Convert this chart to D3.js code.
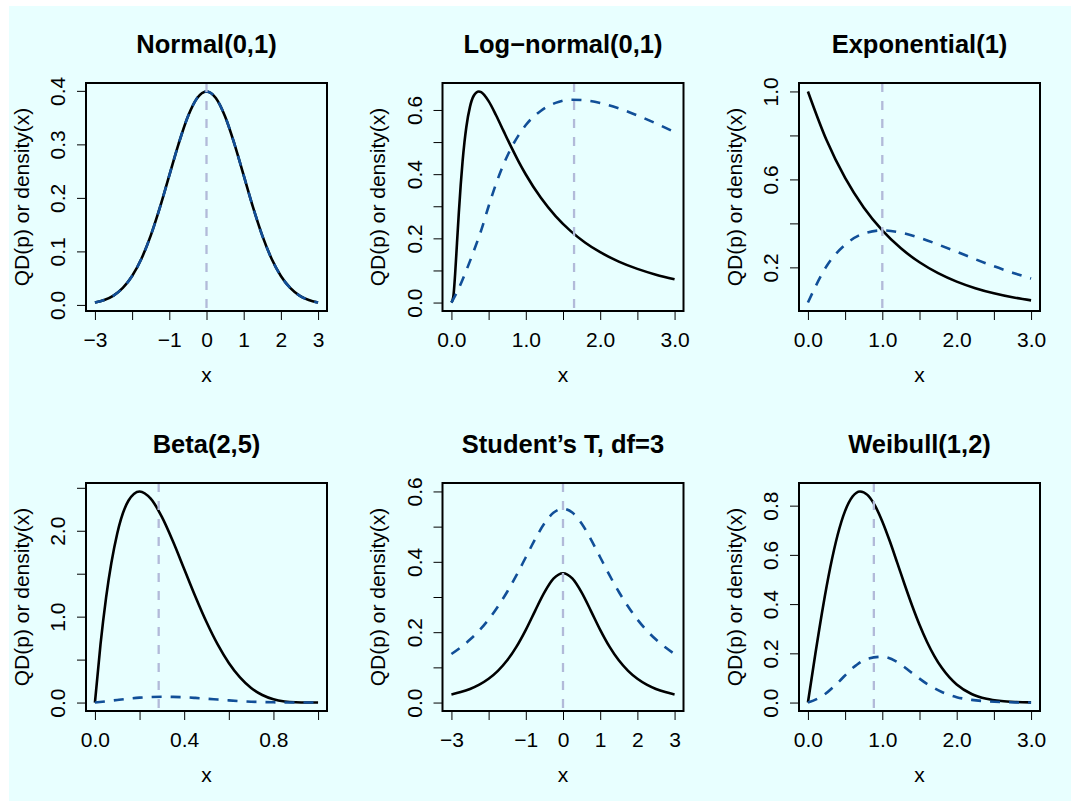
<!DOCTYPE html>
<html>
<head>
<meta charset="utf-8">
<script src="https://cdn.jsdelivr.net/npm/d3@7"></script>
<style>
  body { margin: 0; background: #fff; }
  svg { display: block; }
</style>
</head>
<body>
<div id="chart"></div>
<script>
// Six density panels, 2 x 3 grid, R base-graphics look

const FONT = '"Liberation Sans", Arial, Helvetica, sans-serif';

const panelTitles = ['Normal(0,1)', 'Log\u2212normal(0,1)', 'Exponential(1)', 'Beta(2,5)', 'Student\u2019s T, df=3', 'Weibull(1,2)'];
const panelMeans = [0, 1.6487, 1, 0.2857, 0, 0.8862];

// Normal(0,1)
const normalX = [-3, -2.75, -2.5, -2.25, -2, -1.75, -1.5, -1.25, -1, -0.75, -0.5, -0.25, 0, 0.25, 0.5, 0.75, 1, 1.25, 1.5, 1.75, 2, 2.25, 2.5, 2.75, 3];
const normalDensity = [0.0044, 0.0091, 0.0175, 0.0317, 0.0540, 0.0863, 0.1295, 0.1826, 0.2420, 0.3011, 0.3521, 0.3867, 0.3989, 0.3867, 0.3521, 0.3011, 0.2420, 0.1826, 0.1295, 0.0863, 0.0540, 0.0317, 0.0175, 0.0091, 0.0044];
const normalQD = [0.0044, 0.0091, 0.0175, 0.0317, 0.0540, 0.0863, 0.1295, 0.1826, 0.2420, 0.3011, 0.3521, 0.3867, 0.3989, 0.3867, 0.3521, 0.3011, 0.2420, 0.1826, 0.1295, 0.0863, 0.0540, 0.0317, 0.0175, 0.0091, 0.0044];

// Log-normal(0,1)
const lognormX = [0, 0.025, 0.05, 0.075, 0.1, 0.125, 0.15, 0.175, 0.2, 0.25, 0.3, 0.368, 0.4, 0.5, 0.6, 0.7, 0.8, 0.9, 1.0, 1.2, 1.4, 1.6, 1.8, 2.0, 2.25, 2.5, 2.75, 3.0];
const lognormDensity = [0, 0.0177, 0.0898, 0.1858, 0.2815, 0.3673, 0.4399, 0.499, 0.5463, 0.6104, 0.6442, 0.6577, 0.6555, 0.6276, 0.5836, 0.5348, 0.4864, 0.4408, 0.3989, 0.3270, 0.2693, 0.2233, 0.1865, 0.1569, 0.1276, 0.1049, 0.0870, 0.0727];
const lognormQDX = [0, 0.1, 0.2, 0.3, 0.4, 0.5, 0.6, 0.7, 0.8, 0.9, 1.0, 1.2, 1.4, 1.6, 1.8, 2.0, 2.25, 2.5, 2.75, 3.0];
const lognormQD = [0, 0.045, 0.1, 0.16, 0.225, 0.3, 0.37, 0.43, 0.48, 0.52, 0.553, 0.597, 0.622, 0.632, 0.63, 0.622, 0.605, 0.583, 0.558, 0.531];

// Exponential(1)
const expX = [0, 0.25, 0.5, 0.75, 1, 1.25, 1.5, 1.75, 2, 2.25, 2.5, 2.75, 3];
const expDensity = [1, 0.7788, 0.6065, 0.4724, 0.3679, 0.2865, 0.2231, 0.1738, 0.1353, 0.1054, 0.0821, 0.0639, 0.0498];
const expQD = [0.04, 0.205, 0.303, 0.354, 0.368, 0.358, 0.335, 0.304, 0.271, 0.237, 0.205, 0.176, 0.149];

// Beta(2,5)
const betaX = [0, 0.025, 0.05, 0.1, 0.15, 0.2, 0.25, 0.3, 0.35, 0.4, 0.45, 0.5, 0.55, 0.6, 0.65, 0.7, 0.75, 0.8, 0.85, 0.9, 0.95, 1];
const betaDensity = [0, 0.6778, 1.2218, 1.9683, 2.349, 2.4576, 2.373, 2.1609, 1.8745, 1.5552, 1.2352, 0.9375, 0.6766, 0.4608, 0.2926, 0.1701, 0.0879, 0.0384, 0.0129, 0.0027, 0.0002, 0];
const betaQDX = [0, 0.05, 0.1, 0.15, 0.2, 0.25, 0.3, 0.35, 0.4, 0.45, 0.5, 0.55, 0.6, 0.65, 0.7, 0.75, 0.8, 0.85, 0.9, 0.95, 1];
const betaQD = [0, 0.014, 0.03, 0.045, 0.057, 0.064, 0.067, 0.066, 0.062, 0.054, 0.045, 0.035, 0.025, 0.017, 0.01, 0.006, 0.003, 0.001, 0.0003, 0, 0];

// Student's T, df=3
const tX = [-3, -2.75, -2.5, -2.25, -2, -1.75, -1.5, -1.25, -1, -0.75, -0.5, -0.25, 0, 0.25, 0.5, 0.75, 1, 1.25, 1.5, 1.75, 2, 2.25, 2.5, 2.75, 3];
const tDensity = [0.0230, 0.0297, 0.0387, 0.0509, 0.0675, 0.0900, 0.1200, 0.1589, 0.2067, 0.2607, 0.3132, 0.3528, 0.3676, 0.3528, 0.3132, 0.2607, 0.2067, 0.1589, 0.1200, 0.0900, 0.0675, 0.0509, 0.0387, 0.0297, 0.0230];
const tQD = [0.138, 0.157, 0.179, 0.205, 0.236, 0.273, 0.315, 0.362, 0.413, 0.464, 0.509, 0.540, 0.551, 0.540, 0.509, 0.464, 0.413, 0.362, 0.315, 0.273, 0.236, 0.205, 0.179, 0.157, 0.138];
const tYLimits = [0, 0.6];

// Weibull(1,2)
const weibX = [0, 0.1, 0.2, 0.3, 0.4, 0.5, 0.6, 0.7, 0.8, 0.9, 1.0, 1.1, 1.2, 1.3, 1.4, 1.5, 1.6, 1.7, 1.8, 1.9, 2.0, 2.2, 2.4, 2.6, 2.8, 3.0];
const weibDensity = [0, 0.198, 0.3843, 0.5483, 0.6817, 0.7788, 0.8372, 0.8577, 0.8437, 0.8008, 0.7358, 0.6561, 0.5686, 0.4797, 0.3945, 0.3162, 0.2473, 0.1889, 0.1410, 0.1029, 0.0733, 0.0349, 0.0151, 0.0060, 0.0022, 0.0007];
const weibQDX = [0, 0.2, 0.4, 0.6, 0.8, 1.0, 1.2, 1.4, 1.6, 1.8, 2.0, 2.2, 2.4, 2.6, 2.8, 3.0];
const weibQD = [0, 0.028, 0.08, 0.14, 0.178, 0.186, 0.165, 0.12, 0.076, 0.043, 0.022, 0.011, 0.005, 0.002, 0.0005, 0];

// Ticks and their labels ('' = tick without label, as R drops overlapping ones)
const symXTicks = [-3, -2, -1, 0, 1, 2, 3];
const symXLabels = ['\u22123', '', '\u22121', '0', '1', '2', '3'];
const halfXTicks = [0, 0.5, 1, 1.5, 2, 2.5, 3];
const halfXLabels = ['0.0', '', '1.0', '', '2.0', '', '3.0'];
const betaXTicks = [0, 0.2, 0.4, 0.6, 0.8, 1];
const betaXLabels = ['0.0', '', '0.4', '', '0.8', ''];

const normalYTicks = [0, 0.1, 0.2, 0.3, 0.4];
const normalYLabels = ['0.0', '0.1', '0.2', '0.3', '0.4'];
const tenthYTicks = [0, 0.1, 0.2, 0.3, 0.4, 0.5, 0.6];
const tenthYLabels = ['0.0', '', '0.2', '', '0.4', '', '0.6'];
const expYTicks = [0.2, 0.4, 0.6, 0.8, 1.0];
const expYLabels = ['0.2', '', '0.6', '', '1.0'];
const betaYTicks = [0, 0.5, 1, 1.5, 2, 2.5];
const betaYLabels = ['0.0', '', '1.0', '', '2.0', ''];
const weibYTicks = [0, 0.2, 0.4, 0.6, 0.8];
const weibYLabels = ['0.0', '0.2', '0.4', '0.6', '0.8'];

const panels = [
  { densityX: normalX, density: normalDensity, qdX: normalX, qd: normalQD, xTicks: symXTicks, xLabels: symXLabels, yTicks: normalYTicks, yLabels: normalYLabels },
  { densityX: lognormX, density: lognormDensity, qdX: lognormQDX, qd: lognormQD, xTicks: halfXTicks, xLabels: halfXLabels, yTicks: tenthYTicks, yLabels: tenthYLabels },
  { densityX: expX, density: expDensity, qdX: expX, qd: expQD, xTicks: halfXTicks, xLabels: halfXLabels, yTicks: expYTicks, yLabels: expYLabels },
  { densityX: betaX, density: betaDensity, qdX: betaQDX, qd: betaQD, xTicks: betaXTicks, xLabels: betaXLabels, yTicks: betaYTicks, yLabels: betaYLabels },
  { densityX: tX, density: tDensity, qdX: tX, qd: tQD, xTicks: symXTicks, xLabels: symXLabels, yTicks: tenthYTicks, yLabels: tenthYLabels, yLimits: tYLimits },
  { densityX: weibX, density: weibDensity, qdX: weibQDX, qd: weibQD, xTicks: halfXTicks, xLabels: halfXLabels, yTicks: weibYTicks, yLabels: weibYLabels }
];

// Layout
const W = 1071, H = 801;
const boxLeft = [86, 442.5, 799];
const boxTop = [83, 483];
const boxW = 241, boxH = 228;

const COLORS = {
  bg: '#E8FFFF',
  density: '#000000',
  qd: '#114F98',
  mean: '#B2BAD9'
};

const svg = d3.select('#chart').append('svg')
  .attr('width', W)
  .attr('height', H);

svg.append('rect')
  .attr('x', 9).attr('y', 6)
  .attr('width', W - 9).attr('height', H - 6)
  .attr('fill', COLORS.bg);

// R pads the data range by 4% on each side
function padRange(ext) {
  const d = (ext[1] - ext[0]) * 0.04;
  return [ext[0] - d, ext[1] + d];
}

panels.forEach((p, i) => {
  const col = i % 3, row = Math.floor(i / 3);
  const g = svg.append('g')
    .attr('transform', `translate(${boxLeft[col]},${boxTop[row]})`);

  const x = d3.scaleLinear()
    .domain(padRange(d3.extent(p.densityX.concat(p.qdX))))
    .range([0, boxW]);
  const y = d3.scaleLinear()
    .domain(padRange(p.yLimits || d3.extent(p.density.concat(p.qd))))
    .range([boxH, 0]);

  const line = d3.line()
    .x(d => x(d[0]))
    .y(d => y(d[1]))
    .curve(d3.curveMonotoneX);

  // density (solid black)
  g.append('path')
    .datum(d3.zip(p.densityX, p.density))
    .attr('d', line)
    .attr('fill', 'none')
    .attr('stroke', COLORS.density)
    .attr('stroke-width', 2.6);

  // QD (dashed blue)
  g.append('path')
    .datum(d3.zip(p.qdX, p.qd))
    .attr('d', line)
    .attr('fill', 'none')
    .attr('stroke', COLORS.qd)
    .attr('stroke-width', 2.6)
    .attr('stroke-dasharray', '10,9');

  // mean line
  g.append('line')
    .attr('x1', x(panelMeans[i])).attr('x2', x(panelMeans[i]))
    .attr('y1', 0).attr('y2', boxH)
    .attr('stroke', COLORS.mean)
    .attr('stroke-width', 2.3)
    .attr('stroke-dasharray', '9,9');

  // x axis
  const xAxis = d3.axisBottom(x)
    .tickValues(p.xTicks)
    .tickFormat((d, k) => p.xLabels[k])
    .tickSize(9)
    .tickPadding(12)
    .tickSizeOuter(0);
  const gx = g.append('g')
    .attr('transform', `translate(0,${boxH})`)
    .call(xAxis);
  gx.select('.domain').remove();
  gx.attr('font-family', FONT).attr('font-size', 21);
  gx.selectAll('text').attr('fill', '#000');

  // y axis, labels parallel to the axis
  const yAxis = d3.axisLeft(y)
    .tickValues(p.yTicks)
    .tickFormat((d, k) => p.yLabels[k])
    .tickSize(9)
    .tickSizeOuter(0);
  const gy = g.append('g').call(yAxis);
  gy.select('.domain').remove();
  gy.attr('font-family', FONT).attr('font-size', 21);
  gy.selectAll('text')
    .attr('fill', '#000')
    .attr('transform', 'rotate(-90)')
    .attr('x', 0)
    .attr('y', -21)
    .attr('dy', 0)
    .attr('text-anchor', 'middle');

  // box
  g.append('rect')
    .attr('width', boxW).attr('height', boxH)
    .attr('fill', 'none')
    .attr('stroke', '#000')
    .attr('stroke-width', 2);

  // titles
  g.append('text')
    .attr('x', boxW / 2).attr('y', -30)
    .attr('text-anchor', 'middle')
    .attr('font-family', FONT)
    .attr('font-size', 25.5)
    .attr('font-weight', 'bold')
    .text(panelTitles[i]);

  g.append('text')
    .attr('x', boxW / 2).attr('y', boxH + 71)
    .attr('text-anchor', 'middle')
    .attr('font-family', FONT)
    .attr('font-size', 21)
    .text('x');

  g.append('text')
    .attr('transform', `translate(-57.5,${boxH / 2}) rotate(-90)`)
    .attr('text-anchor', 'middle')
    .attr('font-family', FONT)
    .attr('font-size', 21)
    .text('QD(p) or density(x)');
});
</script>
</body>
</html>
